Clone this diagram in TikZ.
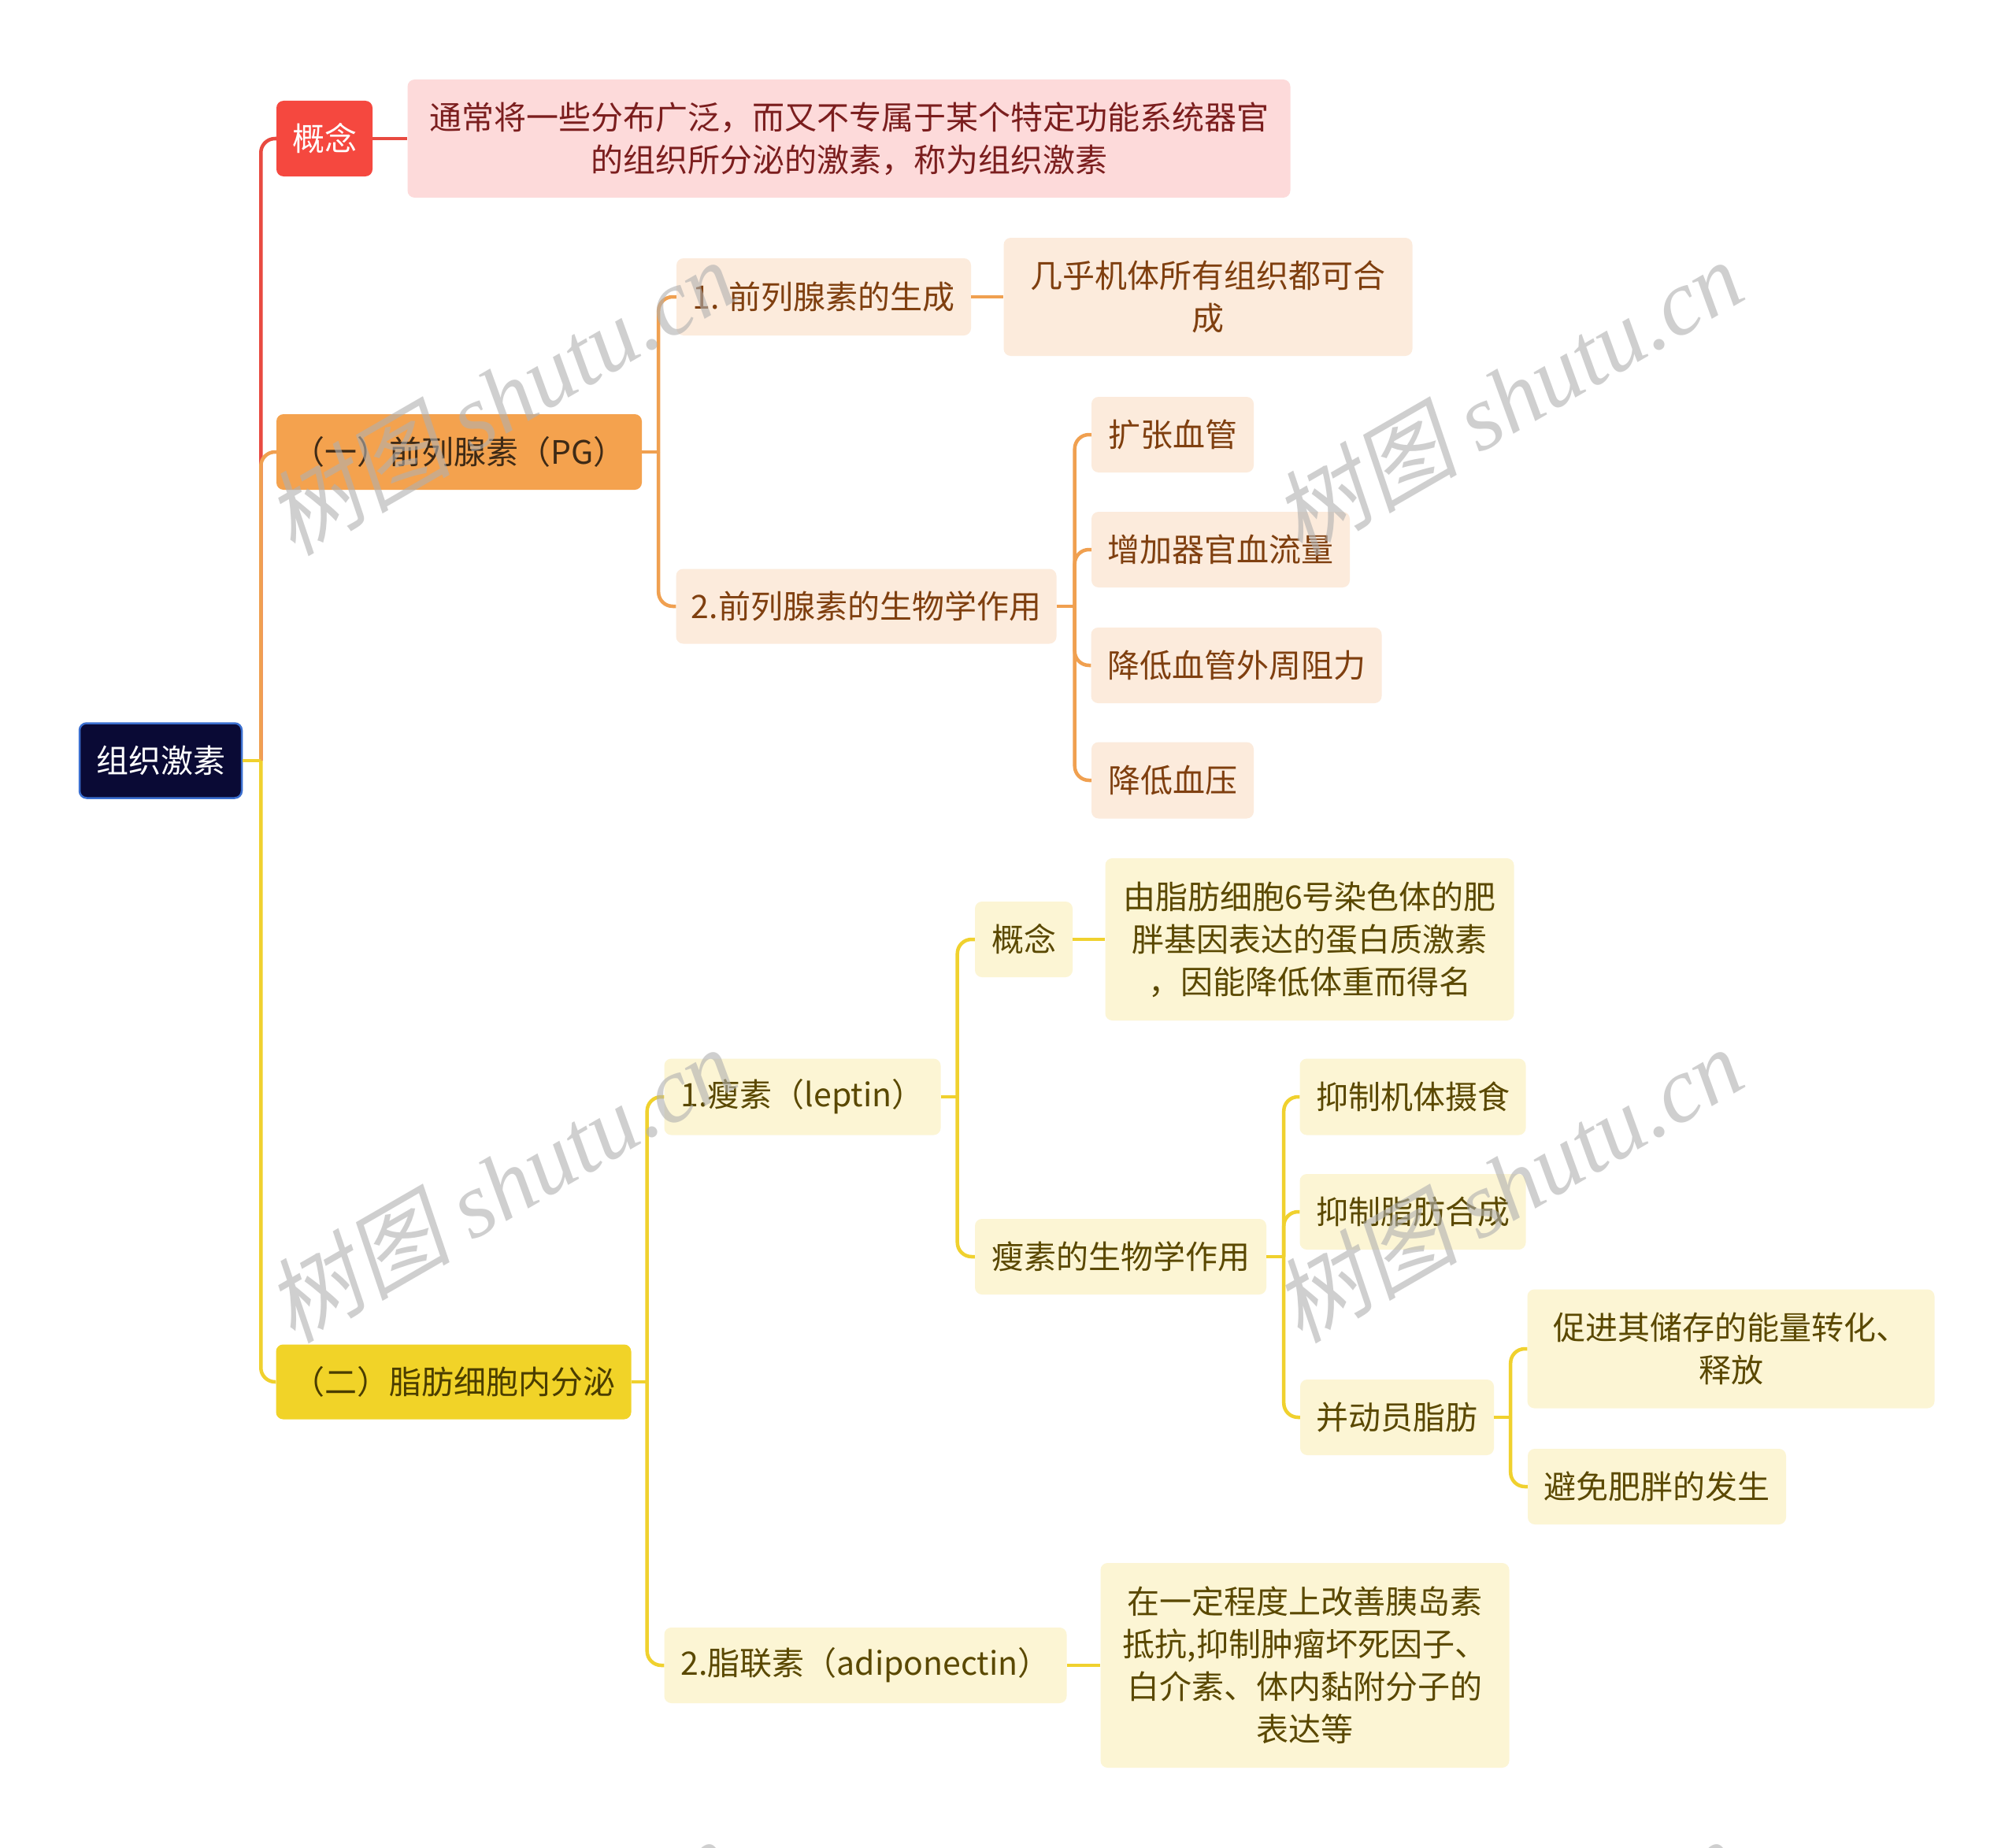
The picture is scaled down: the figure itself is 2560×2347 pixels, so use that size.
\documentclass[tikz,border=0pt]{standalone}
\usepackage{fontspec}
\usetikzlibrary{calc}
\setmainfont{Noto Sans CJK SC}
\newfontfamily\wmcjk[FakeSlant=0.2]{Noto Sans CJK SC}
\newfontfamily\wmlat{Liberation Serif}
\definecolor{rootfill}{HTML}{0A0A35}
\definecolor{rootborder}{HTML}{3B6FD0}
\definecolor{redfill}{HTML}{F5483F}
\definecolor{redline}{HTML}{E84A40}
\definecolor{pinkfill}{HTML}{FDDADA}
\definecolor{pinktext}{HTML}{7B1E1E}
\definecolor{orangefill}{HTML}{F4A24E}
\definecolor{orangetext}{HTML}{3E2A16}
\definecolor{orangeline}{HTML}{F0A050}
\definecolor{peach}{HTML}{FCEBDC}
\definecolor{peachtext}{HTML}{7F3F0F}
\definecolor{yellowfill}{HTML}{F1D328}
\definecolor{yellowtext}{HTML}{4A3D00}
\definecolor{yellowline}{HTML}{F0D12E}
\definecolor{cream}{HTML}{FCF5D4}
\definecolor{creamtext}{HTML}{5A4800}
\definecolor{wmgray}{HTML}{B0B0B0}
\begin{document}
\begin{tikzpicture}[x=1pt,y=-1pt,
  box/.style={rounded corners=9pt, inner sep=0pt, align=center,
    font=\fontsize{41}{54}\selectfont},
  rootbox/.style={box, fill=rootfill, draw=rootborder, line width=2.5pt, text=white},
  redbox/.style={box, fill=redfill, text=white},
  pinkbox/.style={box, fill=pinkfill, text=pinktext},
  orangebox/.style={box, fill=orangefill, text=orangetext},
  peachbox/.style={box, fill=peach, text=peachtext},
  yellowbox/.style={box, fill=yellowfill, text=yellowtext},
  creambox/.style={box, fill=cream, text=creamtext},
  conn/.style={line width=4.5pt, rounded corners=18pt},
  stub/.style={line width=4.5pt},
  redconn/.style={conn, draw=redline},
  orangeconn/.style={conn, draw=orangeline},
  yellowconn/.style={conn, draw=yellowline},
  wm/.style={text=wmgray, opacity=0.6, inner sep=0pt}
]
\useasboundingbox[fill=white] (0,0) rectangle (2560,2347);

% nodes
\node[rootbox, minimum width=206pt, minimum height=95pt] (root) at (204,966) {组织激素};

\node[redbox, minimum width=122pt, minimum height=96pt] (c1) at (412,176) {概念};
\node[pinkbox, minimum width=1121pt, minimum height=150pt] (c1t) at (1078,176)
  {通常将一些分布广泛，而又不专属于某个特定功能系统器官\\的组织所分泌的激素，称为组织激素};

\node[orangebox, minimum width=464pt, minimum height=96pt] (pg) at (583,574) {（一）前列腺素（PG）};
\node[peachbox, minimum width=374pt, minimum height=98pt] (pg1) at (1046,377) {1. 前列腺素的生成};
\node[peachbox, minimum width=519pt, minimum height=150pt] (pg1t) at (1534,377) {几乎机体所有组织都可合\\成};
\node[peachbox, minimum width=483pt, minimum height=95pt] (pg2) at (1100,770) {2.前列腺素的生物学作用};
\node[peachbox, minimum width=206pt, minimum height=96pt] (e1) at (1489,552) {扩张血管};
\node[peachbox, minimum width=328pt, minimum height=96pt] (e2) at (1550,698) {增加器官血流量};
\node[peachbox, minimum width=369pt, minimum height=96pt] (e3) at (1570,845) {降低血管外周阻力};
\node[peachbox, minimum width=206pt, minimum height=97pt] (e4) at (1489,991) {降低血压};

\node[yellowbox, minimum width=451pt, minimum height=95pt] (fat) at (576,1755) {（二）脂肪细胞内分泌};
\node[creambox, minimum width=351pt, minimum height=97pt] (lep) at (1019,1393) {1.瘦素（leptin）};
\node[creambox, minimum width=124pt, minimum height=96pt] (lc) at (1300,1193) {概念};
\node[creambox, minimum width=519pt, minimum height=206pt] (lct) at (1663,1193)
  {由脂肪细胞6号染色体的肥\\胖基因表达的蛋白质激素\\，因能降低体重而得名};
\node[creambox, minimum width=370pt, minimum height=96pt] (lb) at (1423,1596) {瘦素的生物学作用};
\node[creambox, minimum width=287pt, minimum height=97pt] (b1) at (1794,1393) {抑制机体摄食};
\node[creambox, minimum width=287pt, minimum height=96pt] (b2) at (1794,1539) {抑制脂肪合成};
\node[creambox, minimum width=246pt, minimum height=96pt] (b3) at (1774,1800) {并动员脂肪};
\node[creambox, minimum width=517pt, minimum height=151pt] (b31) at (2198,1713) {促进其储存的能量转化、\\释放};
\node[creambox, minimum width=328pt, minimum height=96pt] (b32) at (2104,1888) {避免肥胖的发生};
\node[creambox, minimum width=511pt, minimum height=96pt] (adi) at (1099,2115) {2.脂联素（adiponectin）};
\node[creambox, minimum width=519pt, minimum height=260pt] (adit) at (1657,2115)
  {在一定程度上改善胰岛素\\抵抗,抑制肿瘤坏死因子、\\白介素、体内黏附分子的\\表达等};

% junction points
\coordinate (rj) at ($(root.east)+(23,0)$);
\coordinate (pgj) at ($(pg.east)+(21,0)$);
\coordinate (pg2j) at ($(pg2.east)+(23,0)$);
\coordinate (fj) at ($(fat.east)+(20,0)$);
\coordinate (lj) at ($(lep.east)+(21,0)$);
\coordinate (lbj) at ($(lb.east)+(22,0)$);
\coordinate (b3j) at ($(b3.east)+(21,0)$);

% connectors: root
\draw[redconn] (rj) |- (c1.west);
\draw[orangeconn] (rj) |- (pg.west);
\draw[yellowconn] (rj) |- (fat.west);
\draw[stub, draw=yellowline] (root.east) -- (rj);
\draw[redconn] (c1.east) -- (c1t.west);

% PG branch
\draw[stub, draw=orangeline] (pg.east) -- (pgj);
\draw[orangeconn] (pgj) |- (pg1.west);
\draw[orangeconn] (pgj) |- (pg2.west);
\draw[orangeconn] (pg1.east) -- (pg1t.west);
\draw[stub, draw=orangeline] (pg2.east) -- (pg2j);
\draw[orangeconn] (pg2j) |- (e1.west);
\draw[orangeconn] (pg2j) |- (e2.west);
\draw[orangeconn] (pg2j) |- (e3.west);
\draw[orangeconn] (pg2j) |- (e4.west);

% fat branch
\draw[stub, draw=yellowline] (fat.east) -- (fj);
\draw[yellowconn] (fj) |- (lep.west);
\draw[yellowconn] (fj) |- (adi.west);
\draw[yellowconn] (adi.east) -- (adit.west);
\draw[stub, draw=yellowline] (lep.east) -- (lj);
\draw[yellowconn] (lj) |- (lc.west);
\draw[yellowconn] (lj) |- (lb.west);
\draw[yellowconn] (lc.east) -- (lct.west);
\draw[stub, draw=yellowline] (lb.east) -- (lbj);
\draw[yellowconn] (lbj) |- (b1.west);
\draw[yellowconn] (lbj) |- (b2.west);
\draw[yellowconn] (lbj) |- (b3.west);
\draw[stub, draw=yellowline] (b3.east) -- (b3j);
\draw[yellowconn] (b3j) |- (b31.west);
\draw[yellowconn] (b3j) |- (b32.west);

% watermarks
\begin{scope}
\clip (0,0) rectangle (2560,2347);
\foreach \wx/\wy [count=\i] in {635/504, 1914/504, 635/1504, 1914/1504, 630/2510, 1909/2510}{
  \node[wm, rotate=30] (wm\i) at (\wx,\wy)
    {\fontsize{118}{118}\selectfont{\wmcjk 树图} {\wmlat\itshape shutu.cn}};
}
\end{scope}
\end{tikzpicture}
\end{document}
